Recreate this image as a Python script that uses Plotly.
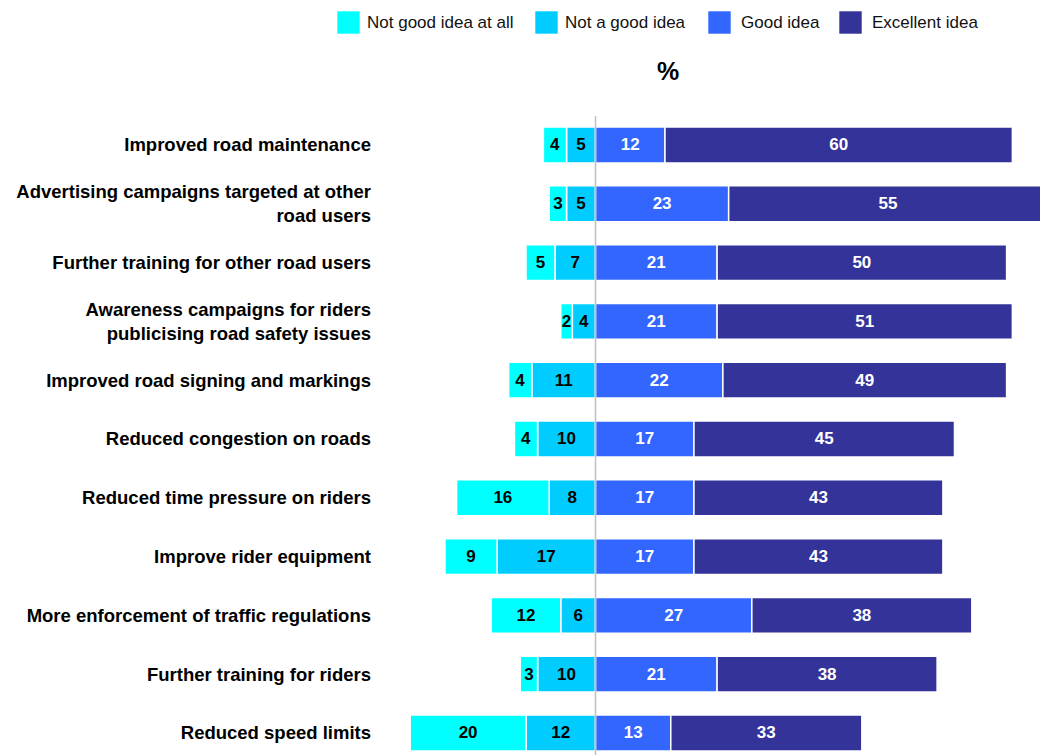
import plotly.graph_objects as go

# Survey measures, top to bottom
categories = [
    "Improved road maintenance",
    "Advertising campaigns targeted at other<br>road users",
    "Further training for other road users",
    "Awareness campaigns for riders<br>publicising road safety issues",
    "Improved road signing and markings",
    "Reduced congestion on roads",
    "Reduced time pressure on riders",
    "Improve rider equipment",
    "More enforcement of traffic regulations",
    "Further training for riders",
    "Reduced speed limits",
]

# Percentages per response
not_good_at_all = [4, 3, 5, 2, 4, 4, 16, 9, 12, 3, 20]
not_a_good_idea = [5, 5, 7, 4, 11, 10, 8, 17, 6, 10, 12]
good_idea = [12, 23, 21, 21, 22, 17, 17, 17, 27, 21, 13]
excellent_idea = [60, 55, 50, 51, 49, 45, 43, 43, 38, 38, 33]

series_names = ["Not good idea at all", "Not a good idea", "Good idea", "Excellent idea"]
colors = ["#00FFFF", "#00CCFF", "#3366FF", "#333399"]
text_colors = ["#000000", "#000000", "#FFFFFF", "#FFFFFF"]

FONT = "Liberation Sans, Arial, Helvetica, sans-serif"
W, H = 1040, 755
ML, MR, MT, MB = 380, 0, 116, 0

positions = list(range(len(categories)))

fig = go.Figure()

# Negative side: stacked outward from zero, nearest first
neg_order = [(1, not_a_good_idea), (0, not_good_at_all)]
pos_order = [(2, good_idea), (3, excellent_idea)]

for idx, vals in neg_order + pos_order:
    sign = -1 if idx < 2 else 1
    fig.add_trace(go.Bar(
        y=positions,
        x=[sign * v for v in vals],
        orientation="h",
        name=series_names[idx],
        width=0.61,
        marker=dict(color=colors[idx], line=dict(color="#FFFFFF", width=1.5)),
        text=[str(v) for v in vals],
        textposition="inside",
        insidetextanchor="middle",
        textangle=0,
        textfont=dict(family=FONT, size=17, color=text_colors[idx], weight="bold"),
        showlegend=False,
        hoverinfo="skip",
    ))

# Zero reference line
fig.add_shape(type="line", xref="x", yref="paper", x0=0, x1=0, y0=0, y1=1,
              line=dict(color="#C0C0C0", width=1.5), layer="above")

plot_w = W - ML - MR
plot_h = H - MT - MB


def px_x(px):
    return (px - ML) / plot_w


def px_y(py):
    return (H - MB - py) / plot_h


# Legend row drawn as swatches with labels
legend_swatch_left = [337, 535, 708, 839]
legend_text_left = [365, 563, 739, 870]
sw = 23
sy_top, sy_bot = 11, 34
for i, name in enumerate(series_names):
    fig.add_shape(type="rect", xref="paper", yref="paper",
                  x0=px_x(legend_swatch_left[i]), x1=px_x(legend_swatch_left[i] + sw),
                  y0=px_y(sy_bot), y1=px_y(sy_top),
                  fillcolor=colors[i], line=dict(color="rgba(255,255,255,0.6)", width=1))
    fig.add_annotation(xref="paper", yref="paper",
                       x=px_x(legend_text_left[i]), y=px_y(23),
                       text=name, showarrow=False, xanchor="left", yanchor="middle",
                       font=dict(family=FONT, size=17, color="#111111"))

# Unit title
fig.add_annotation(xref="paper", yref="paper", x=px_x(668), y=px_y(71),
                   text="%", showarrow=False, xanchor="center", yanchor="middle",
                   font=dict(family=FONT, size=25, color="#000000", weight="bold"))

fig.update_layout(
    width=W, height=H,
    margin=dict(l=ML, r=MR, t=MT, b=MB, pad=0),
    barmode="relative",
    bargap=0.39,
    plot_bgcolor="#FFFFFF",
    paper_bgcolor="#FFFFFF",
    uniformtext=dict(minsize=17, mode="show"),
    font=dict(family=FONT),
    xaxis=dict(range=[-37.22, 76.77], showgrid=False, zeroline=False,
               showticklabels=False, ticks="", showline=False, fixedrange=True),
    yaxis=dict(range=[10.375, -0.493], tickvals=positions, ticktext=categories,
               showgrid=False, zeroline=False, ticks="", showline=False,
               ticklabelstandoff=8,
               tickfont=dict(family=FONT, size=18.5, color="#000000", weight="bold"),
               fixedrange=True),
)

fig.write_html("out.html")
